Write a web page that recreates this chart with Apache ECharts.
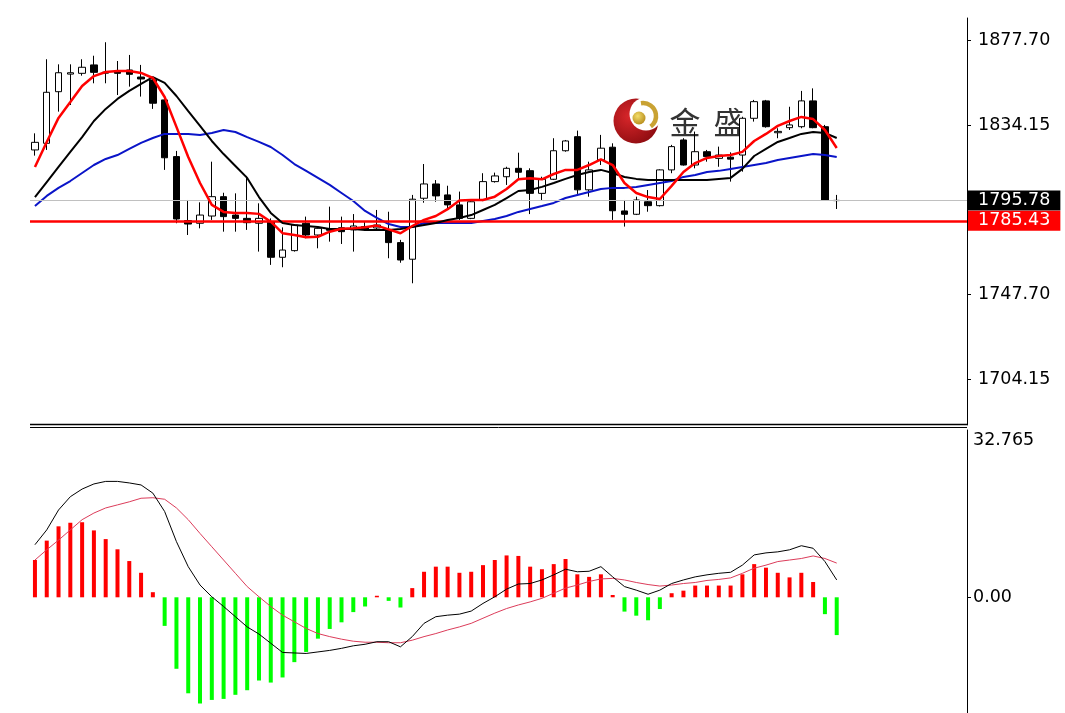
<!DOCTYPE html>
<html><head><meta charset="utf-8">
<script src="https://cdn.jsdelivr.net/npm/echarts@6/dist/echarts.min.js"></script>
<style>html,body{margin:0;padding:0;background:#fff}#c{width:1065px;height:713px}</style>
</head><body><div id="c"></div>
<script>
// ---- price candles (index order, oldest first) ----
const openP  = [1821.7,1825.1,1851.5,1860.5,1860.9,1865.2,1861.5,1862.1,1862.6,1859.0,
                1857.5,1847.3,1818.3,1785.6,1784.2,1787.9,1797.8,1788.4,1786.7,1784.2,
                1785.0,1766.8,1770.2,1784.2,1778.2,1781.5,1781.9,1780.8,1782.5,1781.8,
                1780.8,1774.3,1765.8,1797.0,1804.3,1798.7,1793.6,1786.7,1796.1,1805.5,
                1808.0,1812.3,1811.1,1799.5,1806.7,1821.3,1828.5,1801.3,1816.6,1823.1,
                1790.5,1788.8,1795.2,1793.2,1811.5,1826.8,1814.0,1820.8,1817.4,1818.0,
                1819.1,1837.9,1846.8,1830.5,1833.1,1833.6,1846.8,1833.6,1795.9];
const closeP = [1825.6,1851.2,1861.2,1861.2,1864.0,1861.4,1861.0,1860.9,1860.4,1858.0,
                1845.6,1817.7,1786.4,1783.8,1788.4,1797.8,1787.6,1786.7,1784.5,1786.7,
                1766.8,1770.5,1783.3,1778.2,1781.6,1780.6,1779.9,1782.8,1781.0,1783.3,
                1774.3,1765.4,1796.5,1804.3,1798.2,1793.6,1786.7,1795.2,1805.5,1808.4,
                1812.3,1810.3,1799.5,1806.7,1821.3,1826.3,1801.3,1811.5,1822.6,1790.6,
                1788.8,1796.1,1793.2,1811.5,1823.4,1814.0,1820.8,1818.3,1819.1,1817.0,
                1837.9,1846.4,1833.6,1831.2,1834.5,1846.8,1833.1,1796.1,1795.78];
const highP  = [1830.2,1868.1,1865.5,1865.5,1868.1,1869.9,1876.8,1867.2,1870.3,1865.2,
                1858.4,1847.6,1821.2,1796.1,1794.9,1815.7,1799.8,1799.5,1808.4,1794.4,
                1786.7,1782.1,1783.8,1787.6,1782.5,1792.7,1787.6,1788.9,1785.0,1791.0,
                1790.1,1775.7,1798.7,1814.5,1806.3,1803.4,1800.4,1795.5,1809.8,1810.1,
                1813.1,1820.3,1812.3,1808.0,1827.7,1826.8,1831.6,1815.7,1829.4,1825.1,
                1796.1,1797.8,1801.2,1811.8,1824.3,1827.7,1831.1,1821.7,1823.4,1820.5,
                1838.7,1847.3,1847.3,1832.8,1843.8,1851.9,1853.2,1834.5,1798.7];
const lowP   = [1818.8,1821.7,1841.3,1844.7,1859.7,1855.8,1855.8,1849.8,1854.1,1849.0,
                1842.7,1811.5,1784.2,1778.2,1781.6,1785.9,1779.9,1779.9,1780.8,1769.7,
                1762.9,1761.7,1769.7,1776.5,1771.4,1774.8,1773.6,1769.7,1780.3,1780.5,
                1766.3,1764.0,1753.5,1794.7,1795.2,1791.9,1785.9,1786.3,1795.5,1805.0,
                1803.8,1806.3,1788.9,1796.1,1806.3,1820.8,1799.2,1797.8,1814.0,1785.9,
                1782.5,1788.4,1790.1,1792.8,1809.8,1813.7,1812.3,1815.7,1813.1,1805.5,
                1810.6,1836.2,1833.1,1827.7,1831.9,1832.8,1832.8,1795.6,1791.5];
// ---- moving averages ----
const maRed   = [1813.0,1825.8,1838.1,1846.2,1854.4,1859.5,1861.6,1862.1,1862.1,1861.1,
                 1858.5,1848.8,1833.5,1818.1,1804.8,1793.6,1790.0,1789.5,1789.5,1789.0,
                 1785.0,1779.1,1778.2,1777.0,1777.3,1779.9,1781.4,1781.6,1782.2,1783.0,
                 1781.1,1779.1,1782.8,1785.9,1787.9,1791.4,1795.8,1796.1,1796.1,1797.8,
                 1801.7,1806.7,1807.2,1806.7,1809.4,1811.5,1811.5,1814.0,1816.9,1814.0,
                 1804.8,1799.7,1797.6,1796.6,1803.3,1810.4,1815.0,1817.6,1818.6,1819.1,
                 1820.7,1826.3,1829.9,1834.0,1836.5,1838.6,1837.5,1831.9,1822.7];
const maBlack = [1797.6,1805.3,1813.0,1820.7,1828.3,1836.5,1842.7,1847.8,1851.9,1855.5,
                 1859.0,1856.0,1849.3,1841.6,1834.0,1826.3,1819.6,1813.5,1807.4,1797.6,
                 1789.5,1784.3,1783.3,1782.8,1782.3,1781.3,1781.3,1781.3,1780.8,1780.8,
                 1780.8,1781.3,1782.3,1783.3,1784.3,1785.9,1786.9,1788.4,1791.0,1793.6,
                 1797.1,1800.7,1801.2,1802.8,1804.8,1806.9,1808.9,1810.4,1811.5,1809.9,
                 1807.9,1806.9,1806.3,1806.3,1806.3,1806.3,1806.3,1806.3,1806.9,1807.4,
                 1812.0,1818.6,1822.2,1825.8,1827.8,1829.9,1830.9,1830.4,1827.8];
const maBlue  = [1793.0,1798.2,1802.3,1805.8,1809.9,1814.0,1817.1,1819.1,1822.2,1825.3,
                 1827.8,1829.9,1829.9,1829.9,1829.4,1830.4,1831.9,1830.9,1828.3,1825.8,
                 1823.2,1819.1,1814.5,1811.0,1807.4,1803.8,1799.7,1795.6,1790.5,1786.9,
                 1783.8,1782.3,1782.3,1784.3,1784.3,1784.3,1784.3,1784.3,1785.4,1786.4,
                 1787.9,1790.0,1791.5,1793.0,1794.6,1797.1,1798.7,1800.2,1801.7,1802.3,
                 1802.3,1802.8,1803.8,1804.8,1805.8,1807.9,1808.9,1810.4,1811.0,1812.0,
                 1813.0,1814.0,1815.0,1816.6,1817.6,1818.6,1819.6,1819.1,1818.1];
// ---- MACD panel ----
const macdHist = [7.3,11.1,13.9,14.6,14.7,13.1,11.4,9.4,7.1,4.8,1.0,
                  -5.6,-14.0,-18.8,-20.8,-20.1,-19.9,-19.1,-18.2,-16.3,-16.7,
                  -15.7,-12.7,-10.7,-8.1,-6.2,-4.9,-2.9,-1.8,0.3,-0.7,-2.0,
                  1.8,5.0,6.0,6.0,4.8,5.0,6.3,7.3,8.2,8.1,
                  6.0,5.5,6.5,7.5,4.5,4.0,4.5,0.45,-2.8,-3.6,
                  -4.5,-2.3,0.8,1.3,2.3,2.3,2.3,2.3,4.5,6.5,
                  5.8,4.8,3.9,4.8,3.0,-3.3,-7.4];
const macdLine = [10.3,13.2,17.1,19.7,21.2,22.2,22.7,22.7,22.4,22.0,
                  20.4,16.8,10.9,6.0,2.4,0.1,-1.8,-3.8,-5.8,-7.2,
                  -9.0,-10.8,-10.9,-11.0,-10.7,-10.4,-10.0,-9.5,-9.2,-8.7,
                  -8.7,-9.7,-7.7,-5.1,-3.8,-3.5,-3.3,-2.7,-1.2,0.1,
                  1.6,2.6,2.7,3.4,4.4,5.5,5.0,5.1,6.0,4.0,
                  2.1,1.4,0.6,1.4,2.7,3.4,4.0,4.4,4.7,4.9,
                  6.3,8.3,8.7,8.9,9.3,10.1,9.6,7.0,3.4];
const signalLine = [7.3,9.3,11.2,13.2,15.2,16.5,17.5,18.1,18.7,19.4,
                    19.5,19.2,17.5,15.2,12.5,9.9,7.3,4.7,2.1,0.1,
                    -1.8,-3.5,-4.8,-6.1,-7.1,-7.7,-8.2,-8.6,-8.8,-8.8,
                    -8.9,-8.9,-8.4,-7.7,-7.1,-6.4,-5.8,-5.1,-4.1,-3.1,
                    -2.2,-1.5,-0.9,-0.2,0.8,1.8,2.4,3.1,3.6,3.7,
                    3.4,2.9,2.5,2.2,2.4,2.7,2.9,3.3,3.5,3.8,
                    4.7,5.7,6.3,7.0,7.3,7.6,8.1,7.6,6.7];
// ---- axis ticks / levels ----
const priceTicks = [1704.15, 1747.70, 1834.15, 1877.70];
const macdTicks = [0, 32.765];
const bidPrice = 1795.78;
const levelPrice = 1785.43;

const FONT = 'DejaVu Sans';
const chart = echarts.init(document.getElementById('c'), null, {renderer: 'canvas'});
const idx = a => a.map((v, i) => [i, v]);

chart.setOption({
  animation: false,
  backgroundColor: '#ffffff',
  grid: [
    {left: 30, right: 98, top: 18, height: 407},
    {left: 30, right: 98, top: 430, bottom: 0}
  ],
  xAxis: [
    {type: 'value', gridIndex: 0, min: -0.42, max: 79.05, show: false},
    {type: 'value', gridIndex: 1, min: -0.42, max: 79.05, show: false}
  ],
  yAxis: [
    {type: 'value', gridIndex: 0, position: 'right', min: 1681.0, max: 1889.2,
     splitLine: {show: false},
     axisLine: {show: true, onZero: false, lineStyle: {color: '#000', width: 1}},
     axisTick: {show: true, length: 4, customValues: priceTicks, lineStyle: {color: '#000'}},
     axisLabel: {customValues: priceTicks, margin: 11, color: '#000', fontFamily: FONT, fontSize: 17.5,
                 formatter: v => v.toFixed(2)}},
    {type: 'value', gridIndex: 1, position: 'right', min: -22.66, max: 32.765,
     splitLine: {show: false},
     axisLine: {show: true, onZero: false, lineStyle: {color: '#000', width: 1}},
     axisTick: {show: true, length: 4, customValues: [0], lineStyle: {color: '#000'}},
     axisLabel: {customValues: macdTicks, margin: 6, color: '#000', fontFamily: FONT, fontSize: 17.5,
                 formatter: v => v === 0 ? '0.00' : '{t|' + v.toFixed(3) + '}',
                 rich: {t: {fontFamily: FONT, fontSize: 17.5, color: '#000', padding: [20, 0, 0, 0]}}}}
  ],
  graphic: [
    {type: 'line', shape: {x1: 30, y1: 424.5, x2: 967, y2: 424.5}, style: {stroke: '#000', lineWidth: 1.5}, z: 10},
    {type: 'line', shape: {x1: 30, y1: 427.5, x2: 967, y2: 427.5}, style: {stroke: '#000', lineWidth: 1}, z: 10},
    {type: 'circle', shape: {cx: 636, cy: 121, r: 22.5}, z: 0,
     style: {fill: new echarts.graphic.RadialGradient(0.35, 0.4, 0.75, [{offset: 0, color: '#d8262a'}, {offset: 1, color: '#870a0e'}])}},
    {type: 'circle', shape: {cx: 646, cy: 114, r: 16.5}, z: 0, style: {fill: '#ffffff'}},
    {type: 'arc', shape: {cx: 643, cy: 116, r: 13, startAngle: -Math.PI * 0.55, endAngle: Math.PI * 0.3}, z: 0,
     style: {stroke: '#c9a233', lineWidth: 4.5, fill: null}},
    {type: 'circle', shape: {cx: 639, cy: 118, r: 6.5}, z: 0,
     style: {fill: new echarts.graphic.RadialGradient(0.4, 0.35, 0.7, [{offset: 0, color: '#f3dd6a'}, {offset: 1, color: '#b58a1a'}])}},
    {type: 'text', x: 685, y: 122, z: 0, style: {text: '金', fill: '#333333', font: '400 31px "Noto Sans CJK SC"', textAlign: 'center', textVerticalAlign: 'middle'}},
    {type: 'text', x: 729, y: 122, z: 0, style: {text: '盛', fill: '#333333', font: '400 31px "Noto Sans CJK SC"', textAlign: 'center', textVerticalAlign: 'middle'}}
  ],
  series: [
    {type: 'line', xAxisIndex: 0, yAxisIndex: 0, data: [], z: 1, silent: true,
     markLine: {silent: true, symbol: ['none', 'none'], animation: false,
       data: [{yAxis: bidPrice}],
       lineStyle: {color: '#c0c0c0', width: 1, type: 'solid'},
       label: {show: true, position: 'end', distance: 1, formatter: bidPrice.toFixed(2),
               backgroundColor: '#000', color: '#fff', fontFamily: FONT, fontSize: 17.5,
               lineHeight: 19, padding: [1, 10, 0, 10]}}},
    {type: 'candlestick', xAxisIndex: 0, yAxisIndex: 0, z: 3,
     data: openP.map((o, i) => [i, o, closeP[i], lowP[i], highP[i]]),
     encode: {x: 0, y: [1, 2, 3, 4]},
     barWidth: 7,
     itemStyle: {color: '#ffffff', color0: '#000000', borderColor: '#000000', borderColor0: '#000000', borderWidth: 1}},
    {type: 'line', xAxisIndex: 0, yAxisIndex: 0, data: idx(maBlue), showSymbol: false, z: 4,
     lineStyle: {color: '#0a14c8', width: 2}},
    {type: 'line', xAxisIndex: 0, yAxisIndex: 0, data: idx(maBlack), showSymbol: false, z: 5,
     lineStyle: {color: '#000000', width: 2}},
    {type: 'line', xAxisIndex: 0, yAxisIndex: 0, data: idx(maRed), showSymbol: false, z: 6,
     lineStyle: {color: '#ff0000', width: 2.5}},
    {type: 'line', xAxisIndex: 0, yAxisIndex: 0, data: [], z: 7, silent: true,
     markLine: {silent: true, symbol: ['none', 'none'], animation: false,
       data: [{yAxis: levelPrice}],
       lineStyle: {color: '#ff0000', width: 2.5, type: 'solid'},
       label: {show: true, position: 'end', distance: 1, formatter: levelPrice.toFixed(2),
               backgroundColor: '#ff0000', color: '#fff', fontFamily: FONT, fontSize: 17.5,
               lineHeight: 19, padding: [1, 10, 0, 10]}}},
    {type: 'bar', xAxisIndex: 1, yAxisIndex: 1, barWidth: 4, z: 2,
     data: macdHist.map((v, i) => ({value: [i, v], itemStyle: {color: v >= 0 ? '#ff0000' : '#00ff00'}}))},
    {type: 'line', xAxisIndex: 1, yAxisIndex: 1, data: idx(signalLine), showSymbol: false, z: 3,
     lineStyle: {color: '#dc3c5a', width: 1}},
    {type: 'line', xAxisIndex: 1, yAxisIndex: 1, data: idx(macdLine), showSymbol: false, z: 4,
     lineStyle: {color: '#000000', width: 1}}
  ]
});
</script>
</body></html>
